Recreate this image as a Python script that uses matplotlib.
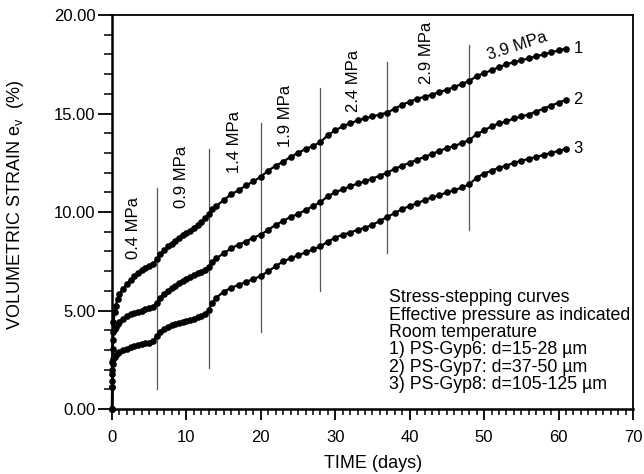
import numpy as np
import matplotlib
matplotlib.use("Agg")
import matplotlib.pyplot as plt
from matplotlib.ticker import MultipleLocator, FormatStrFormatter

plt.rcParams['font.family'] = ['Liberation Sans', 'DejaVu Sans']

# time (days) shared by the three curves
time = [0, 0.02, 0.05, 0.1, 0.2, 0.35, 0.5, 0.75, 1.0, 1.5,
        2.0, 2.5, 3.0, 3.5, 4.0, 4.5, 5.0, 5.5, 6.0, 6.5,
        7.0, 7.5, 8.0, 8.5, 9.0, 9.5, 10.0, 10.5, 11.0, 11.5,
        12.0, 12.5, 13.0, 13.5, 14.0,
        15, 16, 17, 18, 19, 20, 21, 22, 23, 24, 25, 26, 27, 28, 29, 30,
        31, 32, 33, 34, 35, 36, 37, 38, 39, 40, 41, 42, 43, 44, 45, 46,
        47, 48, 49, 50, 51, 52, 53, 54, 55, 56, 57, 58, 59, 60, 61]

# 1) PS-Gyp6
strain1 = [0.0, 1.4, 2.4, 3.5, 4.4, 4.9, 5.25, 5.6, 5.85, 6.1,
           6.35, 6.55, 6.75, 6.9, 7.05, 7.15, 7.25, 7.35, 7.6, 7.85,
           8.05, 8.25, 8.4, 8.55, 8.7, 8.85, 8.95, 9.05, 9.2, 9.35,
           9.5, 9.7, 9.9, 10.15, 10.3,
           10.6, 10.9, 11.1, 11.35, 11.55, 11.8, 12.1, 12.35, 12.55, 12.8, 13.0,
           13.2, 13.35, 13.55, 13.9, 14.15, 14.35, 14.5, 14.65, 14.75, 14.85,
           14.95, 15.05, 15.25, 15.45, 15.6, 15.75, 15.85, 15.95, 16.1, 16.2,
           16.35, 16.5, 16.65, 16.9, 17.05, 17.2, 17.35, 17.5, 17.6, 17.7,
           17.8, 17.9, 18.0, 18.1, 18.2, 18.3]

# 2) PS-Gyp7
strain2 = [0.0, 1.1, 2.0, 3.05, 3.9, 4.05, 4.15, 4.3, 4.4, 4.55,
           4.7, 4.8, 4.88, 4.95, 5.0, 5.07, 5.12, 5.18, 5.4, 5.65,
           5.85, 6.0, 6.15, 6.25, 6.4, 6.5, 6.6, 6.7, 6.8, 6.9,
           6.95, 7.05, 7.2, 7.45, 7.65,
           7.9, 8.15, 8.35, 8.5, 8.7, 8.85, 9.1, 9.35, 9.55, 9.75, 9.9,
           10.1, 10.3, 10.5, 10.8, 11.0, 11.15, 11.3, 11.45, 11.55, 11.7,
           11.85, 12.0, 12.2, 12.35, 12.5, 12.65, 12.8, 12.95, 13.1, 13.25,
           13.35, 13.5, 13.65, 13.95, 14.15, 14.35, 14.5, 14.6, 14.75, 14.85,
           14.95, 15.1, 15.25, 15.4, 15.55, 15.7]

# 3) PS-Gyp8
strain3 = [0.0, 1.1, 1.8, 2.3, 2.55, 2.65, 2.75, 2.85, 2.9, 3.0,
           3.07, 3.13, 3.2, 3.25, 3.3, 3.33, 3.37, 3.45, 3.7, 3.9,
           4.05, 4.15, 4.25, 4.32, 4.38, 4.43, 4.48, 4.53, 4.58, 4.65,
           4.72, 4.82, 5.05, 5.4, 5.65,
           5.95, 6.15, 6.3, 6.45, 6.6, 6.75, 7.0, 7.25, 7.5, 7.65, 7.8,
           7.95, 8.1, 8.25, 8.5, 8.7, 8.85, 8.95, 9.1, 9.2, 9.35,
           9.55, 9.75, 9.95, 10.15, 10.3, 10.45, 10.6, 10.75, 10.85, 11.0,
           11.1, 11.25, 11.4, 11.75, 11.95, 12.1, 12.25, 12.35, 12.5, 12.6,
           12.7, 12.8, 12.9, 13.0, 13.1, 13.2]

curve_names = ["1", "2", "3"]

# stress steps: time, line bottom, line top
step_time = [6, 13, 20, 28, 37, 48]
step_low = [1.0, 2.1, 3.9, 6.0, 7.9, 9.1]
step_high = [11.2, 13.2, 14.5, 16.3, 17.6, 18.5]
# pressure labels
step_label = ["0.4 MPa", "0.9 MPa", "1.4 MPa", "1.9 MPa", "2.4 MPa", "2.9 MPa", "3.9 MPa"]
label_x = [2.9, 9.4, 16.4, 23.25, 32.5, 42.3, 54.4]
label_y = [9.2, 11.8, 13.55, 14.9, 16.65, 18.1, 18.4]
label_rot = [90, 90, 90, 90, 90, 90, 18]

notes = ["Stress-stepping curves",
         "Effective pressure as indicated",
         "Room temperature",
         "1) PS-Gyp6: d=15-28 \u00b5m",
         "2) PS-Gyp7: d=37-50 \u00b5m",
         "3) PS-Gyp8: d=105-125 \u00b5m"]

fig = plt.figure(figsize=(6.44, 4.74), dpi=100)
ax = fig.add_axes([0.1739, 0.1371, 0.809, 0.8312])

for t, lo, hi in zip(step_time, step_low, step_high):
    ax.plot([t, t], [lo, hi], color="#555555", lw=0.9, zorder=1)

for s, name in zip([strain1, strain2, strain3], curve_names):
    ax.plot(time, s, color="black", lw=1.6, marker="o", ms=4.8,
            markeredgewidth=0, zorder=3, clip_on=False)
    ax.text(time[-1] + 1.0, s[-1], name, fontsize=12, va="center", ha="left")

for lab, lx, ly, rot in zip(step_label, label_x, label_y, label_rot):
    ax.text(lx, ly, lab, fontsize=12, rotation=rot, ha="center", va="center",
            rotation_mode="anchor")

for i, line in enumerate(notes):
    ax.text(37.2, 5.65 - i * 0.88, line, fontsize=12.8, ha="left", va="center")

ax.set_xlim(0, 70)
ax.set_ylim(0, 20)
ax.xaxis.set_major_locator(MultipleLocator(10))
ax.xaxis.set_minor_locator(MultipleLocator(1))
ax.yaxis.set_major_locator(MultipleLocator(5))
ax.yaxis.set_minor_locator(MultipleLocator(1))
ax.yaxis.set_major_formatter(FormatStrFormatter("%.2f"))

ax.tick_params(axis="y", which="major", direction="out", length=10, width=1.3,
               labelsize=12, pad=2)
ax.tick_params(axis="y", which="minor", direction="out", length=5.5, width=1.1)
ax.tick_params(axis="x", which="major", direction="out", length=8, width=1.3,
               labelsize=12, pad=7)
ax.tick_params(axis="x", which="minor", direction="out", length=4, width=1.1)

for side in ["left", "bottom"]:
    ax.spines[side].set_linewidth(1.8)
for side in ["top", "right"]:
    ax.spines[side].set_linewidth(1.3)

fig.text(0.579, 0.023, "TIME (days)", fontsize=13, ha="center", va="center")
fig.text(0.024, 0.567, "VOLUMETRIC STRAIN e$_\\mathregular{v}$  (%)", fontsize=13,
         rotation=90, ha="center", va="center")

plt.savefig("out.png", dpi=100)
